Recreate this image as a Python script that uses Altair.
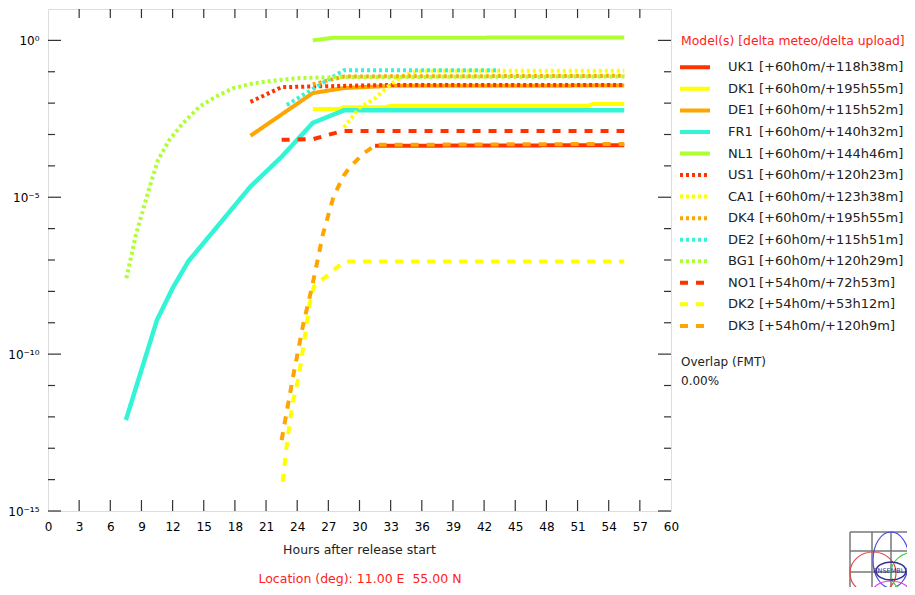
import altair as alt
import pandas as pd

# ---------------- data ----------------
models = ["UK1", "DK1", "DE1", "FR1", "NL1", "US1", "CA1", "DK4", "DE2", "BG1", "NO1", "DK2", "DK3"]
deltas = ["[+60h0m/+118h38m]", "[+60h0m/+195h55m]", "[+60h0m/+115h52m]", "[+60h0m/+140h32m]",
          "[+60h0m/+144h46m]", "[+60h0m/+120h23m]", "[+60h0m/+123h38m]", "[+60h0m/+195h55m]",
          "[+60h0m/+115h51m]", "[+60h0m/+120h29m]", "[+54h0m/+72h53m]", "[+54h0m/+53h12m]",
          "[+54h0m/+120h9m]"]
colors = ["#FF3300", "#FFFF00", "#FFA500", "#33F5D5", "#ADFF2F",
          "#FF3300", "#FFFF00", "#FFA500", "#33F5D5", "#ADFF2F",
          "#FF3300", "#FFFF00", "#FFA500"]
styles = ["solid"] * 5 + ["dotted"] * 5 + ["dashed"] * 3

# hours after release start, and log10 of the value
UK1_h = [31.5, 55.5]
UK1_e = [-3.36, -3.34]
DK1_h = [25.5, 28.0, 28.5, 32.5, 33.0, 52.0, 52.5, 55.5]
DK1_e = [-2.19, -2.19, -2.13, -2.13, -2.08, -2.08, -2.03, -2.03]
DE1_h = [19.5, 25.5, 28.5, 33.0, 55.5]
DE1_e = [-3.04, -1.68, -1.52, -1.45, -1.44]
FR1_h = [7.5, 10.5, 12.0, 13.5, 19.5, 22.5, 25.5, 28.5, 55.5]
FR1_e = [-12.1, -8.91, -7.9, -7.05, -4.66, -3.71, -2.63, -2.23, -2.23]
NL1_h = [25.5, 27.5, 55.5]
NL1_e = [0.0, 0.085, 0.09]
US1_h = [19.5, 22.5, 33.0, 55.5]
US1_e = [-1.96, -1.49, -1.42, -1.42]
CA1_h = [28.5, 30.0, 31.5, 33.0, 34.5, 36.0, 55.5]
CA1_e = [-2.78, -2.15, -1.85, -1.4, -1.07, -0.97, -0.97]
DK4_h = [25.5, 28.5, 55.5]
DK4_e = [-1.4, -1.15, -1.13]
DE2_h = [23.0, 25.5, 28.5, 43.5]
DE2_e = [-2.06, -1.55, -0.95, -0.95]
BG1_h = [7.55, 8.5, 9.15, 9.8, 10.6, 11.7, 13.0, 14.6, 16.2, 17.8, 19.75, 22.3, 24.3, 28.1, 55.5]
BG1_e = [-7.58, -6.15, -5.41, -4.66, -3.81, -3.17, -2.64, -2.11, -1.79, -1.53, -1.37, -1.26, -1.2, -1.17, -1.15]
NO1_h = [22.5, 25.5, 28.0, 28.5, 55.5]
NO1_e = [-3.17, -3.15, -2.92, -2.89, -2.89]
DK2_h = [22.6, 23.1, 23.6, 24.1, 24.5, 25.2, 25.6, 28.5, 55.5]
DK2_e = [-14.07, -12.6, -11.5, -10.8, -9.97, -8.4, -7.85, -7.05, -7.05]
DK3_h = [22.5, 23.6, 24.6, 25.4, 26.5, 27.5, 28.5, 29.1, 30.4, 31.6, 55.5]
DK3_e = [-12.74, -10.72, -9.02, -7.9, -6.15, -4.98, -4.3, -4.03, -3.6, -3.33, -3.30]

series = {
    "UK1": (UK1_h, UK1_e), "DK1": (DK1_h, DK1_e), "DE1": (DE1_h, DE1_e), "FR1": (FR1_h, FR1_e),
    "NL1": (NL1_h, NL1_e), "US1": (US1_h, US1_e), "CA1": (CA1_h, CA1_e), "DK4": (DK4_h, DK4_e),
    "DE2": (DE2_h, DE2_e), "BG1": (BG1_h, BG1_e), "NO1": (NO1_h, NO1_e), "DK2": (DK2_h, DK2_e),
    "DK3": (DK3_h, DK3_e),
}

x_ticks = list(range(0, 61, 3))
y_decades = list(range(-15, 1))
y_major = [0, -5, -10, -15]
y_labels = {0: "10⁰", -5: "10⁻⁵", -10: "10⁻¹⁰", -15: "10⁻¹⁵"}

# ---------------- layout ----------------
W, H = 623, 502
FONT = "DejaVu Sans"
dash_of = {"solid": [1, 0], "dotted": [3, 3], "dashed": [8, 8]}

rows = []
for m in models:
    hs, es = series[m]
    for h, e in zip(hs, es):
        rows.append({"model": m, "hour": h, "val": 10 ** e})
df = pd.DataFrame(rows)

xscale = alt.Scale(domain=[0, 60], nice=False, zero=False)
yscale = alt.Scale(type="log", domain=[1e-15, 10], nice=False)

label_expr = ("datum.value > 0.5 ? '" + y_labels[0] + "' : datum.value > 1e-6 ? '" + y_labels[-5] +
              "' : datum.value > 1e-11 ? '" + y_labels[-10] + "' : '" + y_labels[-15] + "'")

x_axis = alt.Axis(values=x_ticks, ticks=False, tickSize=0, domain=False, grid=False,
                  labelPadding=10, labelFontSize=12, labelFont=FONT, labelColor="black",
                  labelFlush=False, title=None)
y_axis = alt.Axis(values=[10.0 ** d for d in y_major], ticks=False, tickSize=0, domain=False,
                  grid=False, labelExpr=label_expr, labelPadding=9, labelFontSize=12,
                  labelFont=FONT, labelColor="black", title=None)

layers = []
for i, m in enumerate(models):
    layers.append(
        alt.Chart(df).transform_filter(alt.datum.model == m).mark_line(
            color=colors[i], strokeWidth=4.5 if m == "FR1" else 4,
            strokeDash=dash_of[styles[i]], clip=True
        ).encode(
            x=alt.X("hour:Q", scale=xscale, axis=x_axis),
            y=alt.Y("val:Q", scale=yscale, axis=y_axis),
            order="hour:Q",
        )
    )

# inward ticks
ydf = pd.DataFrame({"v": [10.0 ** d for d in y_decades],
                    "major": [d in y_major for d in y_decades]})
xdf = pd.DataFrame({"h": [t for t in x_ticks if 0 < t < 60]})
tick_col = "#333333"
for major, ln in [(True, 13), (False, 7)]:
    sub = ydf[ydf["major"] == major]
    layers.append(alt.Chart(sub).mark_rule(color=tick_col, strokeWidth=1.2).encode(
        y=alt.Y("v:Q", scale=yscale, axis=y_axis), x=alt.value(0), x2=alt.value(ln)))
    layers.append(alt.Chart(sub).mark_rule(color=tick_col, strokeWidth=1.2).encode(
        y=alt.Y("v:Q", scale=yscale, axis=y_axis), x=alt.value(W - ln), x2=alt.value(W)))
layers.append(alt.Chart(xdf).mark_rule(color=tick_col, strokeWidth=1.2).encode(
    x=alt.X("h:Q", scale=xscale, axis=x_axis), y=alt.value(H), y2=alt.value(H - 11)))
layers.append(alt.Chart(xdf).mark_rule(color=tick_col, strokeWidth=1.2).encode(
    x=alt.X("h:Q", scale=xscale, axis=x_axis), y=alt.value(0), y2=alt.value(9)))

one = pd.DataFrame({"a": [0]})


def txt(s, x, y, color="black", size=12.5, align="left"):
    return alt.Chart(one).mark_text(text=s, color=color, fontSize=size, font=FONT,
                                    align=align, baseline="middle").encode(
        x=alt.value(x), y=alt.value(y))


# legend
layers.append(txt("Model(s) [delta meteo/delta upload]", 633, 32, color="#FF2020", size=12.4))
for i, m in enumerate(models):
    ry = 58.3 + i * 21.55
    layers.append(alt.Chart(one).mark_rule(color=colors[i], strokeWidth=4,
                                           strokeDash=dash_of[styles[i]]).encode(
        x=alt.value(632), x2=alt.value(662), y=alt.value(ry)))
    layers.append(txt(m, 680, ry, color="#222222", size=13))
    layers.append(txt(deltas[i], 711, ry, color="#222222", size=13))

layers.append(txt("Overlap (FMT)", 633, 353, color="#222222", size=12))
layers.append(txt("0.00%", 633, 372, color="#222222", size=12))
layers.append(txt("Hours after release start", W / 2, 541, color="#222222", size=12.5, align="center"))
layers.append(txt("Location (deg): 11.00 E \u00a055.00 N", W / 2 + 0.5, 570, color="#FF2020", size=12.5,
                  align="center"))

# small logo (bottom right)
logo_grid_x = [802, 824, 843, 862]
logo_grid_y = [523, 542, 563, 582]
for gx in logo_grid_x:
    layers.append(alt.Chart(one).mark_rule(color="#777777", strokeWidth=1.5).encode(
        x=alt.value(gx), y=alt.value(523), y2=alt.value(586)))
for gy in logo_grid_y:
    layers.append(alt.Chart(one).mark_rule(color="#777777", strokeWidth=1.5).encode(
        x=alt.value(802), x2=alt.value(867), y=alt.value(gy)))


def ellipse(cx, cy, rx, ry, color, width=1.2):
    s = max(rx, ry)
    a, b = rx / s, ry / s
    path = f"M0,{-b}A{a},{b} 0 1,1 0,{b}A{a},{b} 0 1,1 0,{-b}Z"
    return alt.Chart(one).mark_point(shape=path, size=(2 * s) ** 2, filled=False,
                                     stroke=color, strokeWidth=width, opacity=1).encode(
        x=alt.value(cx), y=alt.value(cy))


layers.append(ellipse(825, 564, 23, 21, "#E04848"))
layers.append(ellipse(843, 551, 18, 28, "#4848E0"))
layers.append(ellipse(867, 564, 24, 21, "#48D048"))
layers.append(ellipse(843, 586, 20, 14, "#E048E0"))
layers.append(ellipse(843, 562, 15, 9, "#303090", width=1.5))
layers.append(txt("ENSEMBLE", 843, 562, color="#303090", size=6.5, align="center"))

chart = alt.layer(*layers).properties(
    width=W, height=H,
    padding={"left": 40, "top": 1, "right": 236, "bottom": 76},
    autosize=alt.AutoSizeParams(type="none"),
).configure_view(stroke="#222222", strokeWidth=1.2).configure(background="white")

chart.save("out.html", embed_options={"renderer": "svg", "actions": False})
